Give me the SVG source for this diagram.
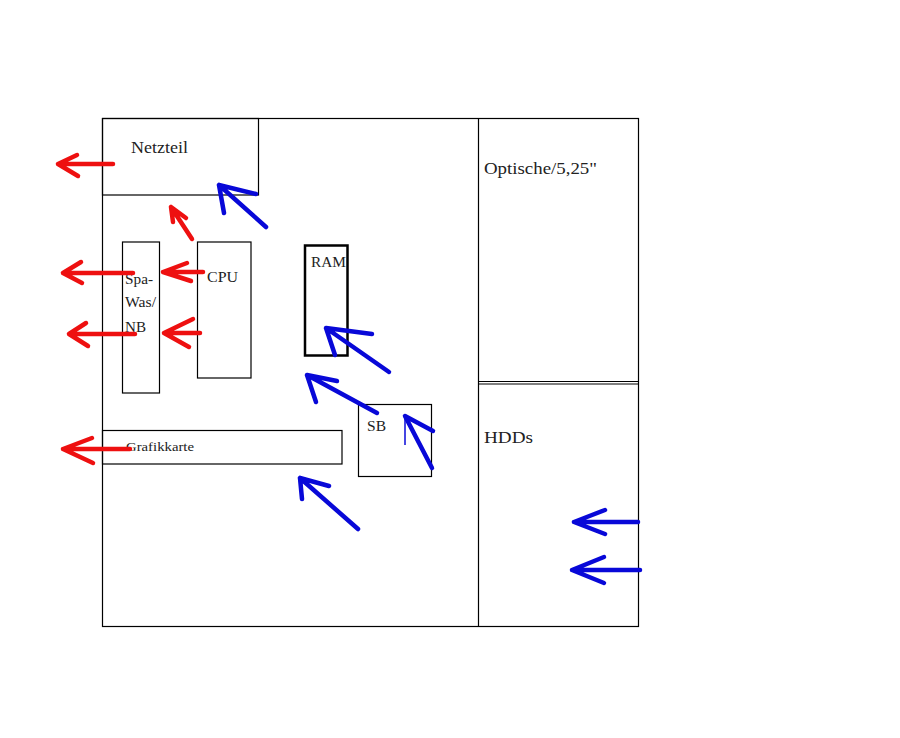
<svg xmlns="http://www.w3.org/2000/svg" width="900" height="738" viewBox="0 0 900 738">
<style>
.box{fill:none;stroke:#000;stroke-width:1.2}
.t{font-family:"Liberation Serif",serif;fill:#222}
.r{fill:none;stroke:#ee1010;stroke-width:4.5;stroke-linecap:round;stroke-linejoin:round}
.b{fill:none;stroke:#0808d8;stroke-width:4.5;stroke-linecap:round;stroke-linejoin:round}
</style>
<rect width="900" height="738" fill="#fff"/>
<g id="case">
<rect class="box" x="102.5" y="118.5" width="536" height="508"/>
<line class="box" x1="478.5" y1="118" x2="478.5" y2="627"/>
</g>
<g id="optische">
<line class="box" x1="478" y1="381.5" x2="638" y2="381.5"/>
<text class="t" x="484" y="174" font-size="17" textLength="113" lengthAdjust="spacingAndGlyphs">Optische/5,25"</text>
</g>
<g id="hdds">
<line class="box" x1="478" y1="384" x2="638" y2="384"/>
<text class="t" x="484" y="443" font-size="17" textLength="49" lengthAdjust="spacingAndGlyphs">HDDs</text>
</g>
<g id="netzteil">
<rect class="box" x="102.5" y="118.5" width="156" height="76.5"/>
<text class="t" x="131" y="153" font-size="16" textLength="57" lengthAdjust="spacingAndGlyphs">Netzteil</text>
</g>
<g id="spawas">
<rect class="box" x="122.5" y="242" width="37" height="151"/>
<text class="t" x="125" y="284" font-size="14" textLength="28" lengthAdjust="spacingAndGlyphs">Spa-</text>
<text class="t" x="125" y="307" font-size="14" textLength="31" lengthAdjust="spacingAndGlyphs">Was/</text>
<text class="t" x="125" y="332" font-size="14" textLength="21" lengthAdjust="spacingAndGlyphs">NB</text>
</g>
<g id="cpu">
<rect class="box" x="197.5" y="242" width="53.5" height="136"/>
<text class="t" x="207" y="282" font-size="15" textLength="31" lengthAdjust="spacingAndGlyphs">CPU</text>
</g>
<g id="ram">
<rect x="305" y="245.5" width="42.5" height="110" fill="none" stroke="#000" stroke-width="2.5"/>
<text class="t" x="311" y="267" font-size="15" textLength="35" lengthAdjust="spacingAndGlyphs">RAM</text>
</g>
<g id="sb">
<rect class="box" x="358.5" y="404.5" width="73" height="72"/>
<text class="t" x="367" y="431" font-size="14" textLength="19" lengthAdjust="spacingAndGlyphs">SB</text>
</g>
<g id="grafikkarte">
<rect class="box" x="102.5" y="430.5" width="239.5" height="33.5"/>
<text class="t" x="126" y="451" font-size="13" textLength="68" lengthAdjust="spacingAndGlyphs">Grafikkarte</text>
</g>
<g id="connectors">
<path class="r" d="M113 164H58M77 155L58 164L78 176"/>
<path class="r" d="M192 239L171 207M173 222L171 207L186 218"/>
<path class="r" d="M133 273H63M81 262L63 273L82 283"/>
<path class="r" d="M135 334H69M86 323L69 334L88 346"/>
<path class="r" d="M203 272H163M187 263L163 272L191 281"/>
<path class="r" d="M200 333H164M193 319L164 333L189 347"/>
<path class="r" d="M130 449H63M92 438L63 449L93 463"/>
<path class="b" d="M266 227L219 185M224 213L219 185L256 194"/>
<path class="b" d="M389 372L326 328M372 334L326 328L335 355"/>
<path class="b" d="M377 413L307 375M337 381L307 375L316 402"/>
<path class="b" d="M432 468L405 416L433 431"/>
<line x1="405" y1="416" x2="405" y2="445" stroke="#0808d8" stroke-width="1.5"/>
<path class="b" d="M358 529L300 478M329 486L300 478L302 499"/>
<path class="b" d="M638 522H574M605 510L574 522L605 534"/>
<path class="b" d="M640 570H572M604 557L572 570L604 583"/>
</g>
</svg>
